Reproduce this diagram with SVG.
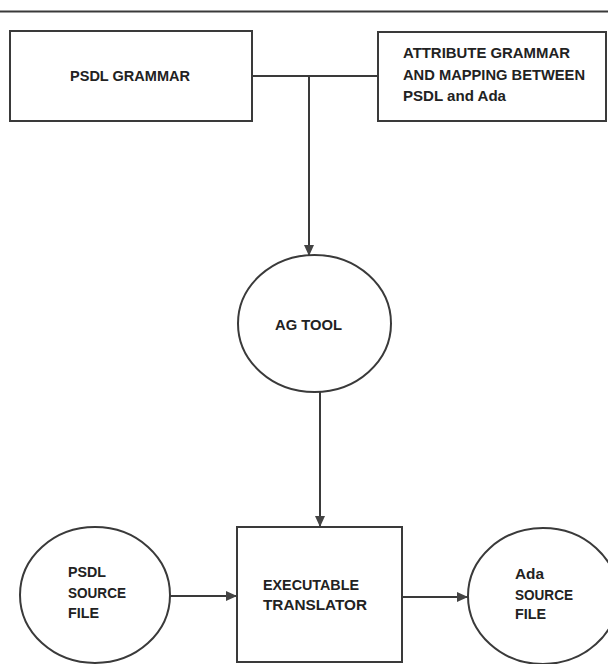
<svg xmlns="http://www.w3.org/2000/svg" width="608" height="664" viewBox="0 0 608 664">
<style>
.shape{fill:#fff;stroke:#3a3a3a;stroke-width:2}
.line{fill:none;stroke:#3a3a3a;stroke-width:2}
text{font-family:"Liberation Sans",Arial,sans-serif;font-size:15px;font-weight:bold;fill:#222}
</style>
<defs>
<marker id="arr" viewBox="0 0 11 10" refX="11" refY="5" markerWidth="11" markerHeight="10" markerUnits="userSpaceOnUse" orient="auto">
<path d="M0,0 L11,5 L0,10 Z" fill="#444"/>
</marker>
</defs>
<rect width="608" height="664" fill="#fff"/>
<line x1="0" y1="11.5" x2="608" y2="11.5" stroke="#3a3a3a" stroke-width="2"/>
<g id="connectors">
<polyline class="line" points="252,76 378,76"/>
<polyline class="line" points="309,76 309,256" marker-end="url(#arr)"/>
<polyline class="line" points="320,392 320,527" marker-end="url(#arr)"/>
<polyline class="line" points="170,596 237,596" marker-end="url(#arr)"/>
<polyline class="line" points="402,597 468,597" marker-end="url(#arr)"/>
</g>
<g id="psdl-grammar">
<rect class="shape" x="10" y="31" width="242" height="90"/>
<text x="70" y="81" textLength="120" lengthAdjust="spacingAndGlyphs">PSDL GRAMMAR</text>
</g>
<g id="attribute-grammar">
<rect class="shape" x="378" y="32" width="228" height="89"/>
<text x="403" y="58" textLength="167" lengthAdjust="spacingAndGlyphs">ATTRIBUTE GRAMMAR</text>
<text x="403" y="80" textLength="182" lengthAdjust="spacingAndGlyphs">AND MAPPING BETWEEN</text>
<text x="403" y="101" textLength="103" lengthAdjust="spacingAndGlyphs">PSDL and Ada</text>
</g>
<g id="ag-tool">
<ellipse class="shape" cx="314.5" cy="323.5" rx="76.5" ry="68.5"/>
<text x="275" y="330" textLength="67" lengthAdjust="spacingAndGlyphs">AG TOOL</text>
</g>
<g id="psdl-source">
<ellipse class="shape" cx="95" cy="595" rx="75" ry="68"/>
<text x="68" y="577" textLength="38" lengthAdjust="spacingAndGlyphs">PSDL</text>
<text x="68" y="598" textLength="58" lengthAdjust="spacingAndGlyphs">SOURCE</text>
<text x="68" y="618" textLength="31" lengthAdjust="spacingAndGlyphs">FILE</text>
</g>
<g id="translator">
<rect class="shape" x="237" y="527" width="165" height="135"/>
<text x="263" y="590" textLength="96" lengthAdjust="spacingAndGlyphs">EXECUTABLE</text>
<text x="263" y="610" textLength="104" lengthAdjust="spacingAndGlyphs">TRANSLATOR</text>
</g>
<g id="ada-source">
<ellipse class="shape" cx="543" cy="596" rx="75" ry="68"/>
<text x="515" y="579" textLength="29" lengthAdjust="spacingAndGlyphs">Ada</text>
<text x="515" y="600" textLength="58" lengthAdjust="spacingAndGlyphs">SOURCE</text>
<text x="515" y="619" textLength="31" lengthAdjust="spacingAndGlyphs">FILE</text>
</g>
</svg>
